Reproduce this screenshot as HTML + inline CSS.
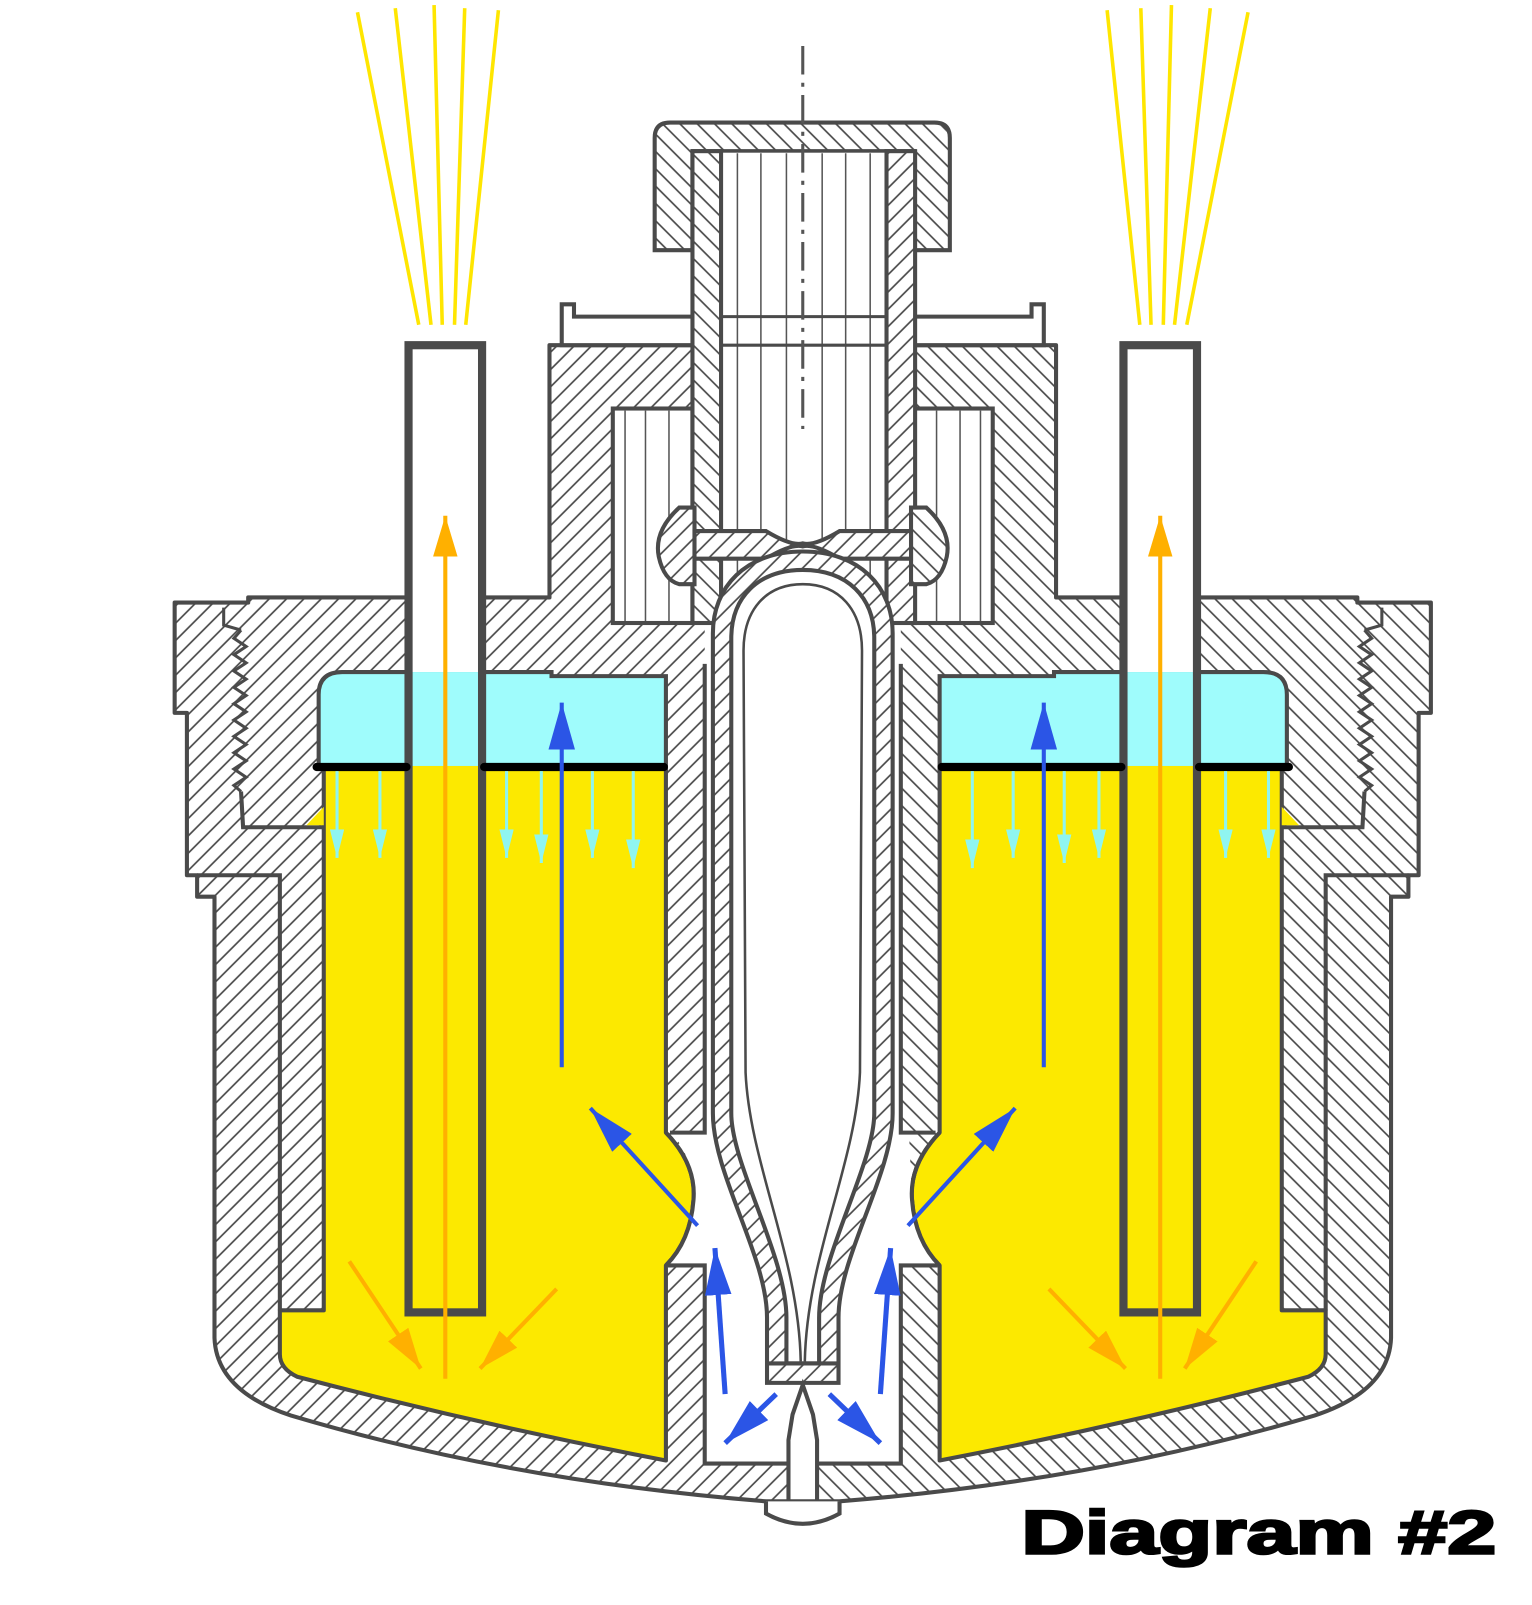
<!DOCTYPE html>
<html><head><meta charset="utf-8"><style>html,body{margin:0;padding:0;background:#fff}svg{display:block}</style></head>
<body>
<svg width="1532" height="1605" viewBox="0 0 1500 1571.5" xmlns="http://www.w3.org/2000/svg">
<defs>
<pattern id="h" width="12" height="12" patternUnits="userSpaceOnUse" patternTransform="rotate(45)">
<rect width="12" height="12" fill="#fff"/><line x1="1" y1="0" x2="1" y2="12" stroke="#444" stroke-width="1.6"/></pattern>
<pattern id="h2" width="12" height="12" patternUnits="userSpaceOnUse" patternTransform="rotate(-45)">
<rect width="12" height="12" fill="#fff"/><line x1="1" y1="0" x2="1" y2="12" stroke="#444" stroke-width="1.6"/></pattern>
<marker id="mo" markerUnits="userSpaceOnUse" markerWidth="42" markerHeight="24" refX="40" refY="12" orient="auto"><path d="M0,0 L40,12 L0,24 Z" fill="#ffb000"/></marker>
<marker id="mb" markerUnits="userSpaceOnUse" markerWidth="48" markerHeight="26" refX="46" refY="13" orient="auto"><path d="M0,0 L46,13 L0,26 Z" fill="#2b55e6"/></marker>
<marker id="mc" markerUnits="userSpaceOnUse" markerWidth="30" markerHeight="14" refX="28" refY="7" orient="auto"><path d="M0,0 L28,7 L0,14 Z" fill="#8ff5f0"/></marker>
<g id="L">
 <path d="M786,338 L538,338 L538,585 L243,585 L243,590 L171,590 L171,698 L183,698 L183,857 L193,857 L193,878 L210,878 L210,1310 Q212,1362 285,1386 Q500,1450 750,1470 L786,1470 Z" fill="url(#h)" stroke="#4a4a4a" stroke-width="4" stroke-linejoin="round"/>
 <rect x="600" y="400" width="78" height="210" fill="#fff" stroke="#4a4a4a" stroke-width="4"/>
 <g stroke="#555" stroke-width="1.5"><line x1="612" y1="402" x2="612" y2="608"/><line x1="632" y1="402" x2="632" y2="608"/><line x1="655" y1="402" x2="655" y2="608"/></g>
 <path d="M312,752 L312,680 Q312,658 335,658 L540,658 L540,662 L652,662 L652,752 Z" fill="#9ffcfc" stroke="#4a4a4a" stroke-width="4"/>
 <path d="M317,750 L652,750 L652,1109 Q682,1140 679,1175 Q676,1215 652,1239 L652,1430 Q470,1395 291,1348 Q274,1340 274,1326 L274,1283 L317,1283 Z" fill="#fce900" stroke="#4a4a4a" stroke-width="4" stroke-linejoin="round"/>
 <path d="M193,857 L274,857 L274,1283" fill="none" stroke="#4a4a4a" stroke-width="4"/>
 <path d="M219,595 L219,612 L236,617" fill="none" stroke="#4a4a4a" stroke-width="3"/>
 <polyline points="236,617 229,625 241,633 229,641 241,649 229,657 241,665 229,673 241,681 229,689 241,697 229,705 241,713 229,721 241,729 229,737 241,745 229,753 241,761 229,769 236,775" fill="none" stroke="#4a4a4a" stroke-width="3"/>
 <path d="M236,775 L238,810 L317,810" fill="none" stroke="#4a4a4a" stroke-width="4"/>
 <path d="M300,808 L317,790 L317,808 Z" fill="#fce900"/>
 <rect x="400" y="338" width="72" height="320" fill="#fff"/>
 <rect x="400" y="658" width="72" height="92" fill="#9ffcfc"/>
 <rect x="400" y="750" width="72" height="535" fill="#fce900"/>
 <rect x="400" y="338" width="72" height="947" fill="none" stroke="#4a4a4a" stroke-width="8"/>
 <line x1="310" y1="751" x2="398" y2="751" stroke="#000" stroke-width="8" stroke-linecap="round"/>
 <line x1="474" y1="751" x2="650" y2="751" stroke="#000" stroke-width="8" stroke-linecap="round"/>
 <g stroke="#8ff5f0" stroke-width="3" marker-end="url(#mc)">
  <line x1="330" y1="755" x2="330" y2="840"/><line x1="372" y1="755" x2="372" y2="840"/>
  <line x1="496" y1="755" x2="496" y2="840"/><line x1="530" y1="755" x2="530" y2="845"/>
  <line x1="580" y1="755" x2="580" y2="840"/><line x1="620" y1="755" x2="620" y2="850"/>
 </g>
 <g stroke="#ffb000" stroke-width="4" marker-end="url(#mo)">
  <line x1="436" y1="1350" x2="436" y2="505"/>
  <line x1="342" y1="1235" x2="412" y2="1340"/>
  <line x1="545" y1="1262" x2="470" y2="1340"/>
 </g>
 <g stroke="#2b55e6" stroke-width="4" marker-end="url(#mb)">
  <line x1="550" y1="1045" x2="550" y2="688"/>
 </g>
 <g stroke="#ffe600" stroke-width="3.5">
  <line x1="350" y1="12" x2="410" y2="318"/><line x1="387" y1="8" x2="422" y2="318"/>
  <line x1="425" y1="5" x2="433" y2="318"/><line x1="455" y1="8" x2="445" y2="318"/>
  <line x1="488" y1="10" x2="456" y2="318"/>
 </g>
</g>
</defs>
<rect width="1500" height="1571.5" fill="#fff"/>
<use href="#L"/>
<use href="#L" transform="matrix(-1 0 0 1 1572 0)"/>
<path d="M690,600 L882,600 L882,1109 L890,1109 Q893,1175 893,1175 Q896,1215 918,1239 L882,1239 L882,1433 L690,1433 L690,1239 L654,1239 Q676,1215 679,1175 Q682,1140 658,1109 L690,1109 Z" fill="#fff"/>
<path d="M690,650 L690,1109 L656,1109 M654,1239 L690,1239 L690,1433 L882,1433 L882,1239 L918,1239 M916,1109 L882,1109 L882,650" fill="none" stroke="#4a4a4a" stroke-width="4"/>
<path d="M652,1109 Q682,1140 679,1175 Q676,1215 652,1239 M920,1109 Q890,1140 893,1175 Q896,1215 920,1239" fill="none" stroke="#4a4a4a" stroke-width="4"/>
<path d="M550,338 L550,298 L562,298 L562,310 L1010,310 L1010,298 L1022,298 L1022,338 Z" fill="#fff" stroke="#4a4a4a" stroke-width="4"/>
<path d="M641,245 L641,135 Q641,120 656,120 L915,120 Q930,120 930,135 L930,245 L895,245 L895,148 L678,148 L678,245 Z" fill="url(#h2)" stroke="#4a4a4a" stroke-width="4"/>
<rect x="706" y="148" width="162" height="455" fill="#fff" stroke="#4a4a4a" stroke-width="3"/>
<g stroke="#555" stroke-width="1.5"><line x1="722" y1="150" x2="722" y2="600"/><line x1="745" y1="150" x2="745" y2="600"/><line x1="770" y1="150" x2="770" y2="600"/><line x1="805" y1="150" x2="805" y2="600"/><line x1="828" y1="150" x2="828" y2="600"/><line x1="852" y1="150" x2="852" y2="600"/></g>
<line x1="706" y1="310" x2="868" y2="310" stroke="#4a4a4a" stroke-width="3"/>
<line x1="706" y1="338" x2="868" y2="338" stroke="#4a4a4a" stroke-width="3"/>
<rect x="678" y="148" width="28" height="462" fill="url(#h2)" stroke="#4a4a4a" stroke-width="4"/>
<rect x="868" y="148" width="28" height="462" fill="url(#h)" stroke="#4a4a4a" stroke-width="4"/>
<line x1="786" y1="45" x2="786" y2="420" stroke="#555" stroke-width="3" stroke-dasharray="28 8 4 8"/>
<path d="M680,497 L665,497 Q640,520 645,545 Q650,568 665,572 L680,572 Z" fill="url(#h)" stroke="#4a4a4a" stroke-width="4"/>
<path d="M892,497 L907,497 Q932,520 927,545 Q922,568 907,572 L892,572 Z" fill="url(#h2)" stroke="#4a4a4a" stroke-width="4"/>
<path d="M680,520 L750,520 Q775,535 786,532 Q797,535 822,520 L892,520 L892,547 L822,547 Q797,532 786,535 Q775,532 750,547 L680,547 Z" fill="url(#h)" stroke="#4a4a4a" stroke-width="4"/>
<path d="M786,540 C730,540 698,575 698,620 L698,1090 C698,1150 751,1230 751,1290 L751,1354 L821,1354 L821,1290 C821,1230 874,1150 874,1090 L874,620 C874,575 842,540 786,540 Z" fill="url(#h)" stroke="#4a4a4a" stroke-width="4"/>
<path d="M786,558 C742,558 716,585 716,625 L716,1090 C716,1140 770,1230 770,1290 L770,1335 L802,1335 L802,1290 C802,1230 856,1140 856,1090 L856,625 C856,585 830,558 786,558 Z" fill="#fff" stroke="#4a4a4a" stroke-width="4"/>
<path d="M786,572 C750,572 728,597 728,637 L730,1050 C734,1140 782,1230 784,1333 M786,572 C822,572 844,597 844,637 L842,1050 C838,1140 790,1230 788,1333" fill="none" stroke="#4a4a4a" stroke-width="2.5"/>
<line x1="751" y1="1335" x2="821" y2="1335" stroke="#4a4a4a" stroke-width="4"/>
<path d="M786,1356 L776,1385 L772,1410 L772,1470 L800,1470 L800,1410 L796,1385 Z" fill="#fff" stroke="#4a4a4a" stroke-width="4"/>
<path d="M750,1470 L750,1482 Q786,1502 822,1482 L822,1470" fill="#fff" stroke="#4a4a4a" stroke-width="4"/>
<g stroke="#2b55e6" stroke-width="5" marker-end="url(#mb)">
 <line x1="710" y1="1365" x2="700" y2="1222"/><line x1="760" y1="1365" x2="710" y2="1413"/>
 <line x1="862" y1="1365" x2="872" y2="1222"/><line x1="812" y1="1365" x2="862" y2="1413"/>
 <line x1="683" y1="1200" x2="578" y2="1085" stroke-width="4"/><line x1="889" y1="1200" x2="994" y2="1085" stroke-width="4"/>
</g>
<text x="1000" y="1521" font-family="Liberation Sans, sans-serif" font-weight="bold" font-size="60" textLength="465" lengthAdjust="spacingAndGlyphs" fill="#000" stroke="#000" stroke-width="2.5">Diagram #2</text>
</svg>
</body></html>
